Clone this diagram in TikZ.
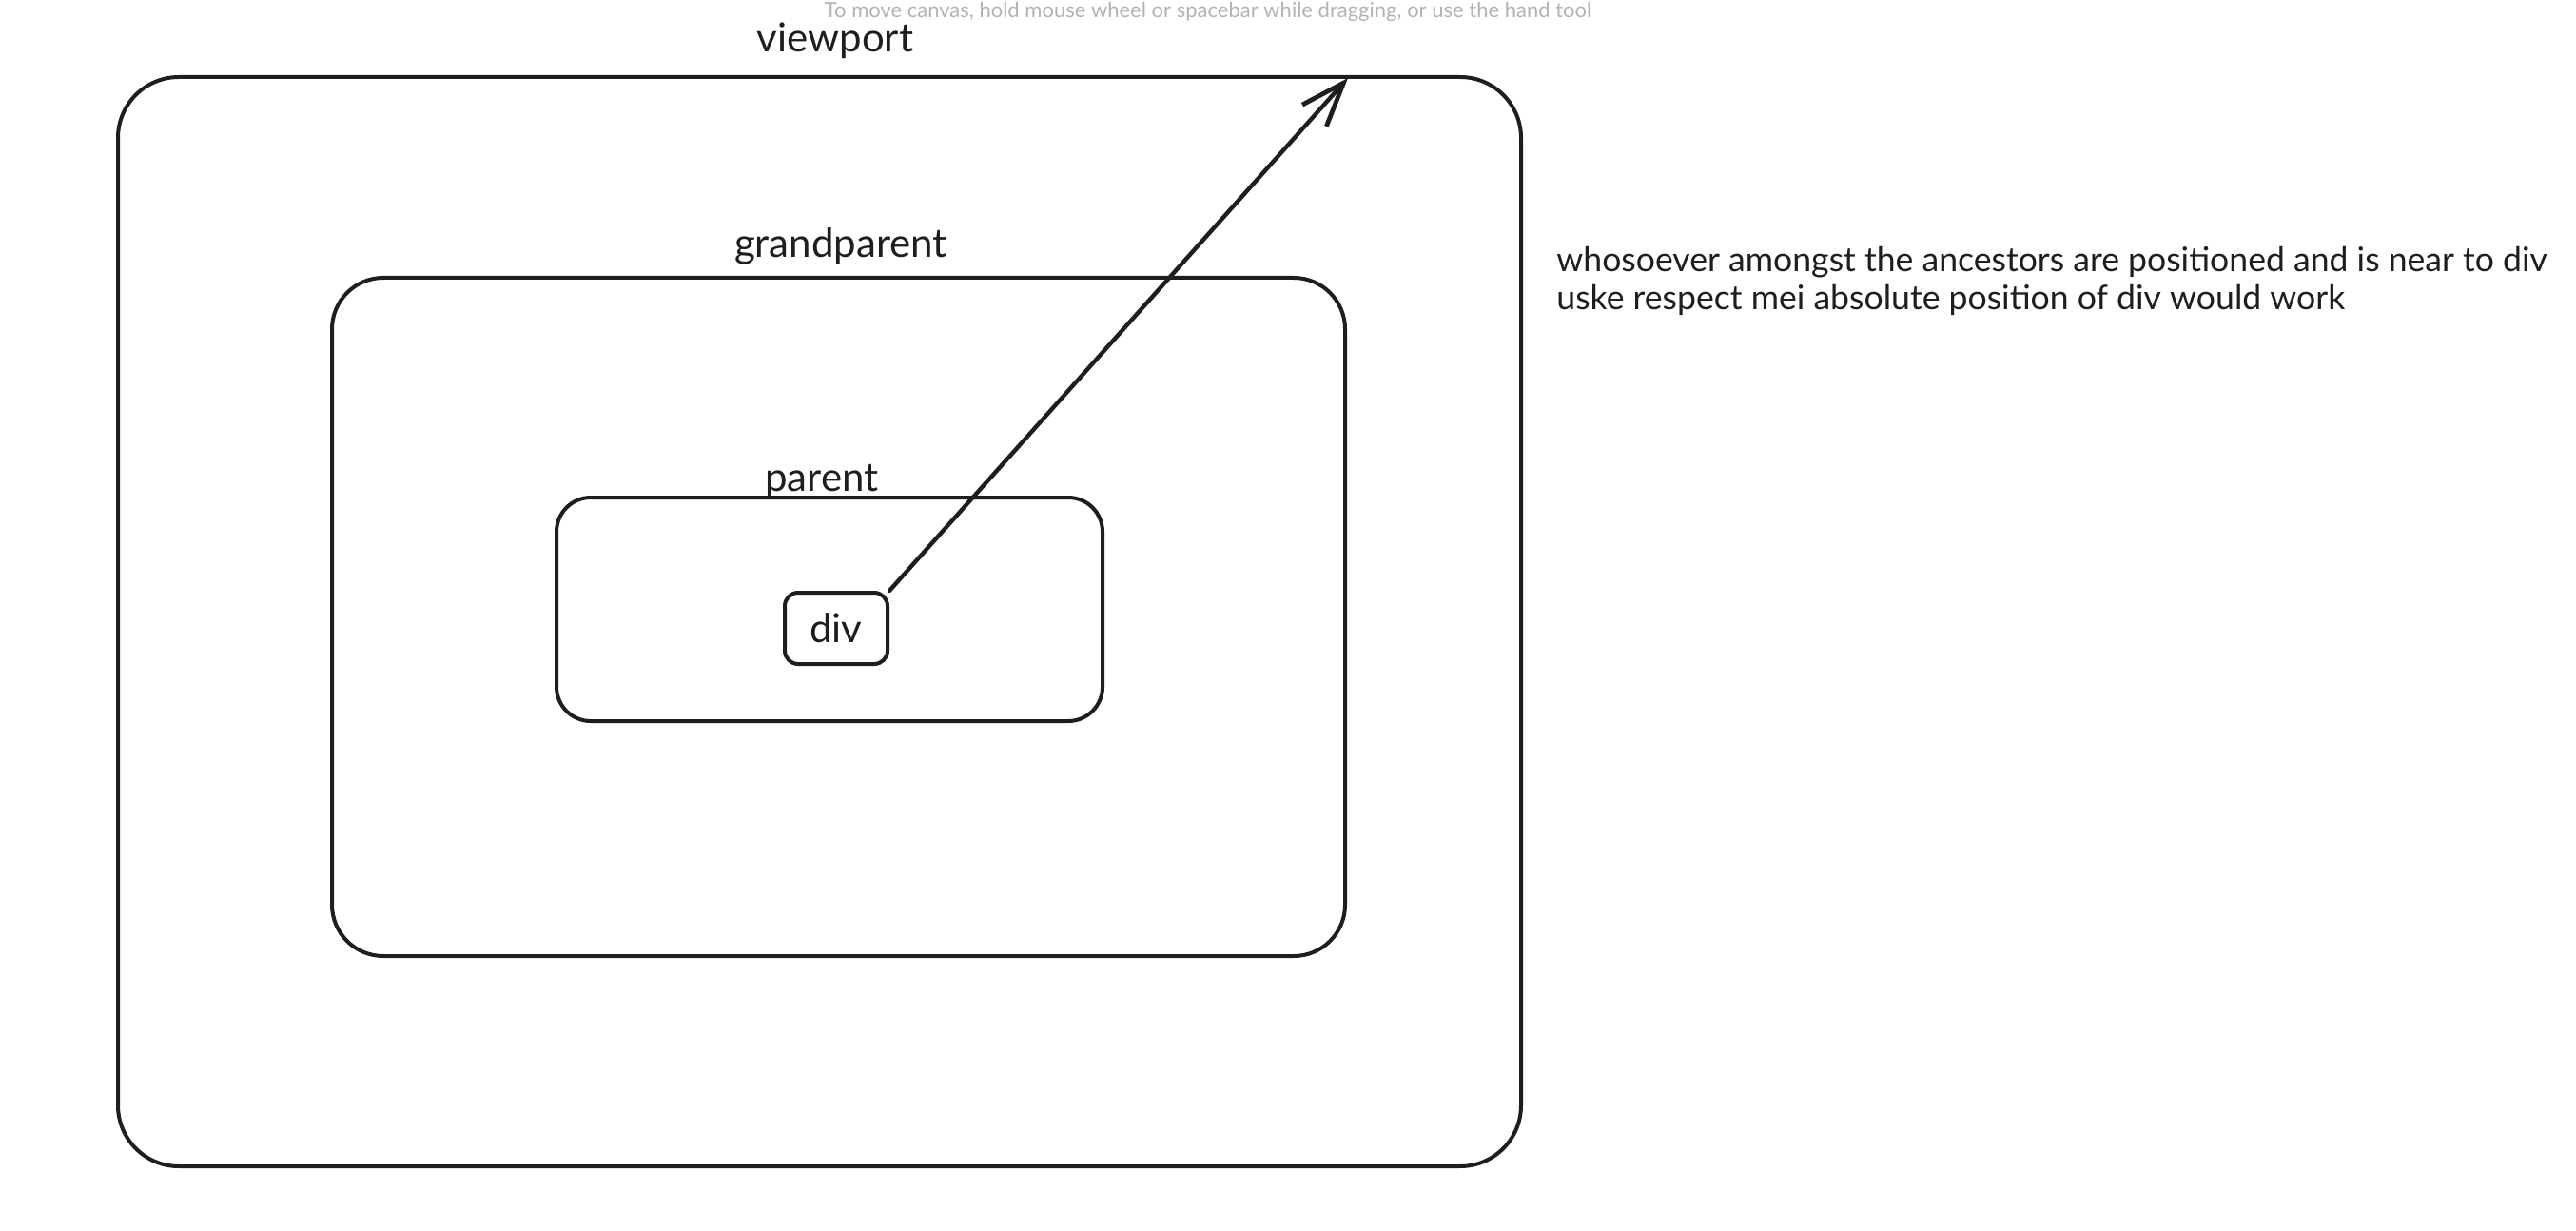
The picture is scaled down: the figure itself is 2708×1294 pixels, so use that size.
\documentclass[tikz,border=0pt]{standalone}
\usepackage{fontspec}
\setmainfont{Lato}
\usetikzlibrary{arrows.meta}
\definecolor{ink}{HTML}{1E1E1E}
\definecolor{hint}{HTML}{B3B3B3}
\tikzset{
  frame/.style={draw=ink, line width=2pt, inner sep=0pt, rectangle},
  lbl/.style={text=ink, font=\fontsize{21}{25}\selectfont, inner sep=0pt, anchor=base},
  note/.style={text=ink, font=\fontsize{17.8}{21}\selectfont, inner sep=0pt, anchor=base west},
}
\begin{document}
\begin{tikzpicture}[x=0.5pt,y=-0.5pt]
\clip (0,0) rectangle (2708,1294);
\fill[white] (0,0) rectangle (2708,1294);
\node[text=hint, font=\fontsize{11}{12}\selectfont, inner sep=0pt, anchor=base] (hinttext) at (1270,19) {To move canvas, hold mouse wheel or spacebar while dragging, or use the hand tool};
% boxes
\node[frame, rounded corners=32pt, minimum width=737.5pt, minimum height=572.5pt] (viewport) at (861.5,653.5) {};
\node[frame, rounded corners=27pt, minimum width=532.5pt, minimum height=356.5pt] (grandparent) at (881.5,648.5) {};
\node[frame, rounded corners=18pt, minimum width=287pt, minimum height=117.5pt] (parent) at (872,640.5) {};
\node[frame, rounded corners=7pt, minimum width=54pt, minimum height=37.5pt, text=ink, font=\fontsize{21}{25}\selectfont] (div) at (879,660.5) {div};
% labels
\node[lbl] (lviewport) at (878,55) {viewport};
\node[lbl] (lgrand) at (884,271) {grandparent};
\node[lbl] (lparent) at (864,516) {parent};
% arrow
\coordinate (tip) at (1417,82);
\draw[ink, line width=2.2pt, line cap=round, -{Straight Barb[length=23pt, width=17pt, line width=2.4pt]}] (div.north east) -- (tip);
% annotation
\node[note] (note1) at (1636,286) {whosoever amongst the ancestors are positioned and is near to div};
\node[note] (note2) at (1636,326) {uske respect mei absolute position of div would work};
\end{tikzpicture}
\end{document}
